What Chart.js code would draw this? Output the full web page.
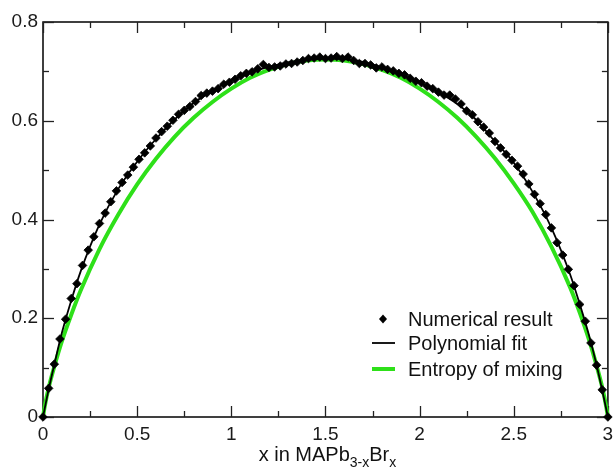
<!DOCTYPE html>
<html>
<head>
<meta charset="utf-8">
<script src="https://cdn.jsdelivr.net/npm/chart.js@4.4.1/dist/chart.umd.min.js"></script>
<style>
  html, body { margin: 0; padding: 0; background: #fff; }
</style>
</head>
<body>
<canvas id="entropy_chart" width="613" height="467"></canvas>
<script>
// numerical result (diamonds)
var resultX = [
  0, 0.03, 0.06, 0.09, 0.12, 0.15, 0.18, 0.21, 0.24, 0.27,
  0.3, 0.33, 0.36, 0.39, 0.42, 0.45, 0.48, 0.51, 0.54, 0.57,
  0.6, 0.63, 0.66, 0.69, 0.72, 0.75, 0.78, 0.81, 0.84, 0.87,
  0.9, 0.93, 0.96, 0.99, 1.02, 1.05, 1.08, 1.11, 1.14, 1.17,
  1.2, 1.23, 1.26, 1.29, 1.32, 1.35, 1.38, 1.41, 1.44, 1.47,
  1.5, 1.53, 1.56, 1.59, 1.62, 1.65, 1.68, 1.71, 1.74, 1.77,
  1.8, 1.83, 1.86, 1.89, 1.92, 1.95, 1.98, 2.01, 2.04, 2.07,
  2.1, 2.13, 2.16, 2.19, 2.22, 2.25, 2.28, 2.31, 2.34, 2.37,
  2.4, 2.43, 2.46, 2.49, 2.52, 2.55, 2.58, 2.61, 2.64, 2.67,
  2.7, 2.73, 2.76, 2.79, 2.82, 2.85, 2.88, 2.91, 2.94, 2.97,
  3
];
var resultY = [
  0, 0.058, 0.107, 0.158, 0.198, 0.240, 0.270, 0.307, 0.338, 0.365,
  0.392, 0.413, 0.436, 0.458, 0.475, 0.490, 0.506, 0.522, 0.535, 0.549,
  0.565, 0.578, 0.589, 0.601, 0.613, 0.621, 0.629, 0.639, 0.651, 0.656,
  0.660, 0.665, 0.674, 0.678, 0.684, 0.691, 0.696, 0.699, 0.705, 0.714,
  0.708, 0.709, 0.711, 0.715, 0.716, 0.719, 0.722, 0.726, 0.727, 0.729,
  0.726, 0.727, 0.730, 0.726, 0.729, 0.722, 0.716, 0.716, 0.713, 0.707,
  0.709, 0.704, 0.701, 0.696, 0.693, 0.686, 0.680, 0.677, 0.670, 0.665,
  0.658, 0.652, 0.652, 0.644, 0.634, 0.620, 0.612, 0.598, 0.587, 0.575,
  0.558, 0.545, 0.532, 0.520, 0.508, 0.492, 0.472, 0.451, 0.432, 0.410,
  0.383, 0.353, 0.328, 0.299, 0.266, 0.228, 0.194, 0.150, 0.105, 0.055,
  0
];

// polynomial fit (black line)
var fitX = [0, 0.03, 0.06, 0.1, 0.15, 0.2, 0.3, 0.4, 0.5, 0.6, 0.7, 0.8, 0.9, 1.0,
  1.1, 1.2, 1.3, 1.4, 1.5, 1.6, 1.7, 1.8, 1.9, 2.0, 2.1, 2.2, 2.3, 2.4, 2.5,
  2.6, 2.7, 2.8, 2.85, 2.9, 2.94, 2.97, 3];
var fitY = [0, 0.056, 0.106, 0.170, 0.236, 0.295, 0.390, 0.462, 0.517, 0.563, 0.603, 0.636, 0.661, 0.682,
  0.698, 0.709, 0.718, 0.723, 0.726, 0.725, 0.719, 0.708, 0.694, 0.677, 0.658, 0.634, 0.602, 0.558, 0.515,
  0.456, 0.383, 0.288, 0.229, 0.165, 0.105, 0.054, 0];

// entropy of mixing (green line)
var entropyX = [0, 0.01, 0.03, 0.06, 0.1, 0.15, 0.2, 0.3, 0.4, 0.5, 0.6, 0.7, 0.8, 0.9, 1.0,
  1.1, 1.2, 1.3, 1.4, 1.5, 1.6, 1.7, 1.8, 1.9, 2.0, 2.1, 2.2, 2.3, 2.4, 2.5,
  2.6, 2.7, 2.8, 2.85, 2.9, 2.94, 2.97, 2.99, 3];
var entropyY = [0, 0.023, 0.059, 0.102, 0.153, 0.207, 0.256, 0.340, 0.410, 0.471, 0.523, 0.568, 0.606, 0.638, 0.665,
  0.687, 0.703, 0.715, 0.722, 0.724, 0.722, 0.715, 0.703, 0.687, 0.665, 0.638, 0.606, 0.568, 0.524, 0.473,
  0.415, 0.345, 0.262, 0.212, 0.156, 0.104, 0.060, 0.023, 0];

var xTicks = [0, 0.5, 1, 1.5, 2, 2.5, 3];
var yTicks = [0, 0.2, 0.4, 0.6, 0.8];
var xMinor = [0.25, 0.75, 1.25, 1.75, 2.25, 2.75];
var yMinor = [0.1, 0.3, 0.5, 0.7];

function pairs(xs, ys) {
  return xs.map(function (x, i) { return { x: x, y: ys[i] }; });
}

var FONT = '"Liberation Sans", Arial, Helvetica, sans-serif';

// box + inward ticks on all four sides
var frameTicks = {
  id: 'frameTicks',
  beforeDatasetsDraw: function (chart) {
    var c = chart.ctx, a = chart.chartArea;
    var sx = chart.scales.x, sy = chart.scales.y;
    c.save();
    c.strokeStyle = '#000';
    c.lineWidth = 1.5;
    c.strokeRect(a.left, a.top, a.right - a.left, a.bottom - a.top);
    c.lineWidth = 1.3;
    c.strokeStyle = '#222';
    function seg(x1, y1, x2, y2) { c.beginPath(); c.moveTo(x1, y1); c.lineTo(x2, y2); c.stroke(); }
    function tx(v, len) {
      var p = Math.round(sx.getPixelForValue(v)) + 0.5;
      seg(p, a.bottom, p, a.bottom - len);
      seg(p, a.top, p, a.top + len);
    }
    function ty(v, len) {
      var p = Math.round(sy.getPixelForValue(v)) + 0.5;
      seg(a.left, p, a.left + len, p);
      seg(a.right, p, a.right - len, p);
    }
    xTicks.forEach(function (v) { tx(v, 11); });
    xMinor.forEach(function (v) { tx(v, 6); });
    yTicks.forEach(function (v) { ty(v, 11); });
    yMinor.forEach(function (v) { ty(v, 6); });
    c.restore();
  }
};

// x axis title with subscripts
var xTitle = {
  id: 'xTitle',
  afterDraw: function (chart) {
    var c = chart.ctx, a = chart.chartArea;
    var parts = [['x in MAPb', 0], ['3-x', 1], ['Br', 0], ['x', 1]];
    var big = '20px ' + FONT, small = '14px ' + FONT;
    c.save();
    c.fillStyle = '#111';
    c.textBaseline = 'alphabetic';
    var w = 0;
    parts.forEach(function (p) { c.font = p[1] ? small : big; w += c.measureText(p[0]).width; });
    var x = (a.left + a.right) / 2 - w / 2 + 2;
    var base = 461;
    parts.forEach(function (p) {
      c.font = p[1] ? small : big;
      c.fillText(p[0], x, p[1] ? base + 6 : base);
      x += c.measureText(p[0]).width;
    });
    c.restore();
  }
};

// legend inside the plot, lower right
var innerLegend = {
  id: 'innerLegend',
  afterDraw: function (chart) {
    var c = chart.ctx, ds = chart.data.datasets;
    var rows = [319, 343, 369];
    c.save();
    c.font = '20px ' + FONT;
    c.fillStyle = '#111';
    c.textBaseline = 'middle';
    ds.forEach(function (d, i) {
      var y = rows[i];
      if (d.showLine === false) {
        c.fillStyle = '#000';
        c.beginPath();
        c.moveTo(383, y - 4.5); c.lineTo(387, y); c.lineTo(383, y + 4.5); c.lineTo(379, y);
        c.closePath(); c.fill();
      } else {
        c.strokeStyle = d.borderColor;
        c.lineWidth = d.borderWidth;
        c.beginPath(); c.moveTo(372, y); c.lineTo(395, y); c.stroke();
      }
      c.fillStyle = '#111';
      c.fillText(d.label, 408, y + 1);
    });
    c.restore();
  }
};

var ctx = document.getElementById('entropy_chart').getContext('2d');
var myChart = new Chart(ctx, {
  type: 'scatter',
  data: {
    datasets: [
      {
        label: 'Numerical result',
        data: pairs(resultX, resultY),
        showLine: false,
        pointStyle: 'rectRot',
        pointRadius: 4.3,
        backgroundColor: '#000',
        borderColor: '#000',
        borderWidth: 0.8,
        clip: false,
        order: 0
      },
      {
        label: 'Polynomial fit',
        data: pairs(fitX, fitY),
        showLine: true,
        pointRadius: 0,
        borderColor: '#000',
        borderWidth: 1.8,
        cubicInterpolationMode: 'monotone',
        clip: false,
        order: 1
      },
      {
        label: 'Entropy of mixing',
        data: pairs(entropyX, entropyY),
        showLine: true,
        pointRadius: 0,
        borderColor: '#2ee019',
        borderWidth: 4,
        cubicInterpolationMode: 'monotone',
        clip: false,
        order: 2
      }
    ]
  },
  options: {
    responsive: false,
    animation: false,
    devicePixelRatio: 1,
    layout: { padding: { top: 22, right: 4, left: 0, bottom: 0 } },
    plugins: {
      legend: { display: false },
      tooltip: { enabled: false },
      title: { display: false }
    },
    scales: {
      x: {
        type: 'linear',
        min: 0,
        max: 3,
        grid: { display: false, drawTicks: false },
        border: { display: false },
        ticks: {
          color: '#1a1a1a', font: { family: FONT, size: 19 }, padding: 6, maxRotation: 0,
          callback: function (v) { return String(v); }
        },
        afterBuildTicks: function (s) { s.ticks = xTicks.map(function (v) { return { value: v }; }); },
        afterFit: function (s) { s.height = 50; s.paddingLeft = 0; s.paddingRight = 0; }
      },
      y: {
        type: 'linear',
        min: 0,
        max: 0.8,
        grid: { display: false, drawTicks: false },
        border: { display: false },
        ticks: {
          color: '#1a1a1a', font: { family: FONT, size: 19 }, padding: 5,
          callback: function (v) { return String(v); }
        },
        afterBuildTicks: function (s) { s.ticks = yTicks.map(function (v) { return { value: v }; }); },
        afterFit: function (s) { s.width = 43; s.paddingTop = 0; s.paddingBottom = 0; }
      }
    }
  },
  plugins: [frameTicks, xTitle, innerLegend]
});
</script>
</body>
</html>
